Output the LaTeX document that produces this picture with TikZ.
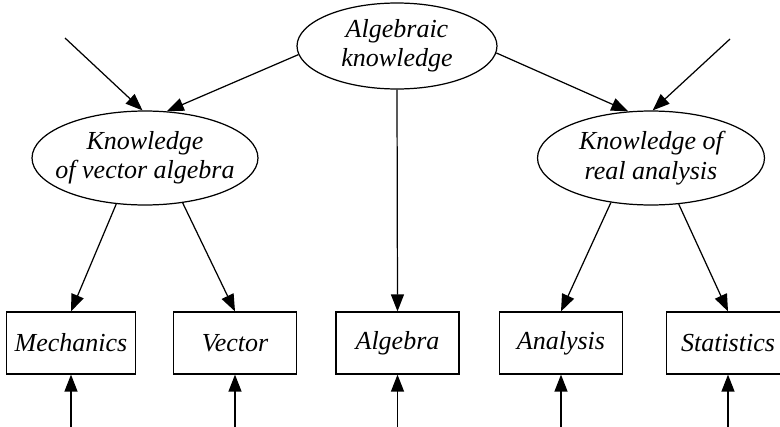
\documentclass[tikz,border=0pt]{standalone}
\usepackage{fontspec}
\setmainfont{Liberation Serif}
\usetikzlibrary{shapes.geometric, arrows.meta, positioning}

\begin{document}
\begin{tikzpicture}[
      x=0.02cm, y=-0.02cm,
      factor/.style={draw, ellipse, line width=0.7pt, inner xsep=-0.3cm, inner ysep=0pt,
                     align=center, font=\fontsize{14.8}{16.7}\selectfont\itshape},
      measure/.style={draw, rectangle, line width=0.7pt, minimum width=2.46cm,
                      minimum height=1.24cm, inner xsep=0.16cm,
                      font=\fontsize{14.8}{16.7}\selectfont\itshape},
      link/.style={-{Triangle[length=0.34cm, width=0.26cm]}, line width=0.7pt}
    ]

    \clip (0,0) rectangle (780,426);

    \node[factor, minimum width=4.0cm, minimum height=1.72cm]  (alg) at (397,46)  {Algebraic\\knowledge};
    \node[factor, minimum width=4.52cm, minimum height=1.88cm] (kva) at (145,158) {Knowledge\\of vector algebra};
    \node[factor, minimum width=4.54cm, minimum height=1.88cm] (kra) at (651,158) {Knowledge of\\real analysis};

    \node[measure] (mech) at (71,343)    {Mechanics};
    \node[measure] (vec)  at (235,343)   {Vector};
    \node[measure] (algb) at (397.5,343) {Algebra};
    \node[measure] (anal) at (561,343)   {Analysis};
    \node[measure] (stat) at (728,343)   {Statistics};

    \coordinate (kvain) at (65,38);
    \coordinate (krain) at (730,39);
    \coordinate[below=1.04cm of mech.south] (mechin);
    \coordinate[below=1.04cm of vec.south]  (vecin);
    \coordinate[below=1.04cm of algb.south] (algbin);
    \coordinate[below=1.04cm of anal.south] (analin);
    \coordinate[below=1.04cm of stat.south] (statin);

    \draw[link] (kvain) -- (kva.93);
    \draw[link] (alg.185) -- (kva.65);
    \draw[link] (krain) -- (kra.88);
    \draw[link] (alg.356) -- (kra.116);
    \draw[link] (alg.south) -- (algb.north);

    \draw[link] (kva.238) -- (mech.north);
    \draw[link] (kva.310) -- (vec.north);
    \draw[link] (kra.228) -- (anal.north);
    \draw[link] (kra.301) -- (stat.north);

    \draw[link] (mechin) -- (mech.south);
    \draw[link] (vecin) -- (vec.south);
    \draw[link] (algbin) -- (algb.south);
    \draw[link] (analin) -- (anal.south);
    \draw[link] (statin) -- (stat.south);

  \end{tikzpicture}
\end{document}
